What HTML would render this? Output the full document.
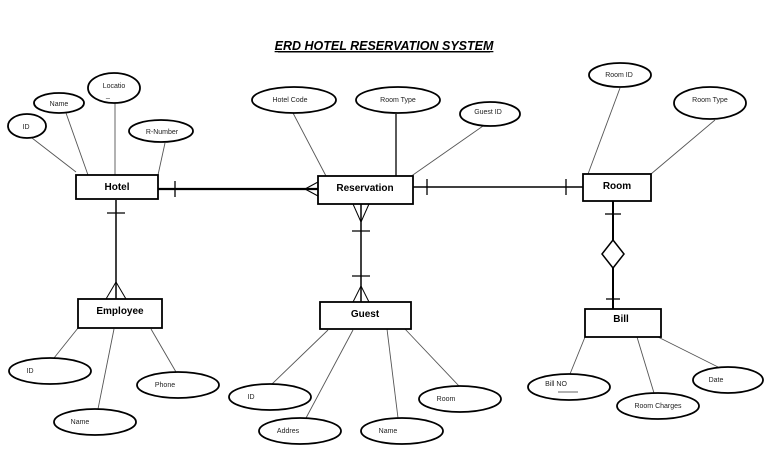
<!DOCTYPE html>
<html><head><meta charset="utf-8"><style>
html,body{margin:0;padding:0;background:#fff;}
svg{display:block;font-family:"Liberation Sans",sans-serif;}
</style></head><body>
<svg width="768" height="466" viewBox="0 0 768 466" xmlns="http://www.w3.org/2000/svg">
<rect width="768" height="466" fill="#fff"/>
<text x="384" y="50" text-anchor="middle" font-size="12.5" font-weight="bold" font-style="italic" text-decoration="underline">ERD HOTEL RESERVATION SYSTEM</text>
<line x1="278" y1="52" x2="490" y2="52" stroke="#000" stroke-width="1"/>
<g stroke="#555" stroke-width="0.9" fill="none">
<line x1="32" y1="138" x2="76" y2="172"/>
<line x1="66" y1="113" x2="88" y2="175"/>
<line x1="115" y1="103" x2="115" y2="175"/>
<line x1="165" y1="143" x2="158" y2="175"/>
<line x1="293" y1="113" x2="326" y2="176"/>
<line x1="483" y1="126" x2="410" y2="177"/>
<line x1="620" y1="88" x2="588" y2="174"/>
<line x1="715" y1="120" x2="651" y2="174"/>
<line x1="78" y1="328" x2="54" y2="358"/>
<line x1="114" y1="329" x2="98" y2="409"/>
<line x1="151" y1="329" x2="176" y2="372"/>
<line x1="328" y1="330" x2="272" y2="384"/>
<line x1="353" y1="330" x2="306" y2="418"/>
<line x1="387" y1="329" x2="398" y2="418"/>
<line x1="405" y1="329" x2="459" y2="386"/>
<line x1="585" y1="337" x2="570" y2="374"/>
<line x1="637" y1="337" x2="654" y2="393"/>
<line x1="658" y1="337" x2="718" y2="367"/>
</g>
<line x1="396" y1="114" x2="396" y2="176" stroke="#000" stroke-width="1.3"/>
<g stroke="#000" fill="none">
<line x1="158" y1="189" x2="318" y2="189" stroke-width="2.2"/>
<line x1="175" y1="181" x2="175" y2="197" stroke-width="1.3"/>
<line x1="305" y1="189" x2="318" y2="182" stroke-width="1"/>
<line x1="305" y1="189" x2="318" y2="196" stroke-width="1"/>
<line x1="413" y1="187" x2="583" y2="187" stroke-width="1.5"/>
<line x1="427" y1="179" x2="427" y2="195" stroke-width="1.3"/>
<line x1="566" y1="179" x2="566" y2="195" stroke-width="1.3"/>
<line x1="116" y1="200" x2="116" y2="299" stroke-width="1.5"/>
<line x1="107" y1="213" x2="125" y2="213" stroke-width="1.3"/>
<line x1="116" y1="282" x2="106" y2="299" stroke-width="1"/>
<line x1="116" y1="282" x2="126" y2="299" stroke-width="1"/>
<line x1="361" y1="204" x2="361" y2="302" stroke-width="1.5"/>
<line x1="361" y1="222" x2="353" y2="204" stroke-width="1"/>
<line x1="361" y1="222" x2="369" y2="204" stroke-width="1"/>
<line x1="352" y1="231" x2="370" y2="231" stroke-width="1.3"/>
<line x1="352" y1="276" x2="370" y2="276" stroke-width="1.3"/>
<line x1="361" y1="286" x2="353" y2="302" stroke-width="1"/>
<line x1="361" y1="286" x2="369" y2="302" stroke-width="1"/>
<line x1="613" y1="201" x2="613" y2="309" stroke-width="2"/>
<line x1="605" y1="214" x2="621" y2="214" stroke-width="1.3"/>
<polygon points="613,240 624,254 613,268 602,254" fill="#fff" stroke-width="1.5"/>
<line x1="606" y1="299" x2="620" y2="299" stroke-width="1.3"/>
</g>
<g stroke="#000" stroke-width="1.8" fill="#fff">
<rect x="76" y="175" width="82" height="24"/>
<rect x="318" y="176" width="95" height="28"/>
<rect x="583" y="174" width="68" height="27"/>
<rect x="78" y="299" width="84" height="29"/>
<rect x="320" y="302" width="91" height="27"/>
<rect x="585" y="309" width="76" height="28"/>
<ellipse cx="27" cy="126" rx="19" ry="12"/>
<ellipse cx="59" cy="103" rx="25" ry="10"/>
<ellipse cx="114" cy="88" rx="26" ry="15"/>
<ellipse cx="161" cy="131" rx="32" ry="11"/>
<ellipse cx="294" cy="100" rx="42" ry="13"/>
<ellipse cx="398" cy="100" rx="42" ry="13"/>
<ellipse cx="490" cy="114" rx="30" ry="12"/>
<ellipse cx="620" cy="75" rx="31" ry="12"/>
<ellipse cx="710" cy="103" rx="36" ry="16"/>
<ellipse cx="50" cy="371" rx="41" ry="13"/>
<ellipse cx="178" cy="385" rx="41" ry="13"/>
<ellipse cx="95" cy="422" rx="41" ry="13"/>
<ellipse cx="270" cy="397" rx="41" ry="13"/>
<ellipse cx="300" cy="431" rx="41" ry="13"/>
<ellipse cx="402" cy="431" rx="41" ry="13"/>
<ellipse cx="460" cy="399" rx="41" ry="13"/>
<ellipse cx="569" cy="387" rx="41" ry="13"/>
<ellipse cx="658" cy="406" rx="41" ry="13"/>
<ellipse cx="728" cy="380" rx="35" ry="13"/>
</g>
<g font-weight="bold" font-size="10" text-anchor="middle" fill="#000">
<text x="117" y="190">Hotel</text>
<text x="365" y="191">Reservation</text>
<text x="617" y="189">Room</text>
<text x="120" y="314">Employee</text>
<text x="365" y="317">Guest</text>
<text x="621" y="322">Bill</text>
</g>
<g font-size="7" text-anchor="middle" fill="#222">
<text x="26" y="129">ID</text>
<text x="59" y="106">Name</text>
<text x="114" y="88">Locatio</text>
<text x="108" y="97">_</text>
<text x="162" y="134">R-Number</text>
<text x="290" y="102">Hotel Code</text>
<text x="398" y="102">Room Type</text>
<text x="488" y="114">Guest ID</text>
<text x="619" y="77">Room ID</text>
<text x="710" y="102">Room Type</text>
<text x="30" y="373">ID</text>
<text x="165" y="387">Phone</text>
<text x="80" y="424">Name</text>
<text x="251" y="399">ID</text>
<text x="288" y="433">Addres</text>
<text x="388" y="433">Name</text>
<text x="446" y="401">Room</text>
<text x="556" y="386">Bill NO</text>
<text x="658" y="408">Room Charges</text>
<text x="716" y="382">Date</text>
</g>
<line x1="558" y1="392" x2="578" y2="392" stroke="#333" stroke-width="0.8"/>
</svg>
</body></html>
